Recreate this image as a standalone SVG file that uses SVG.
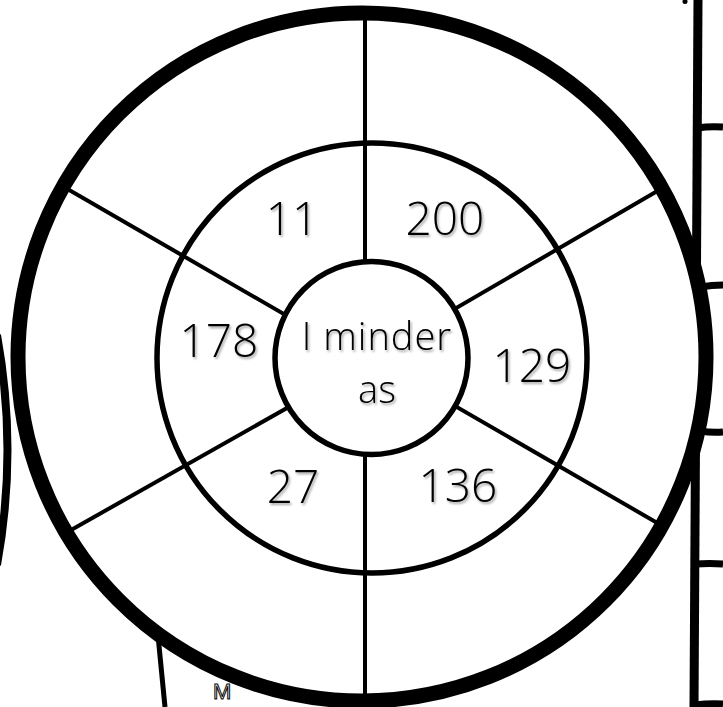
<svg xmlns="http://www.w3.org/2000/svg" width="723" height="707" viewBox="0 0 723 707">
  <defs>
    <filter id="shadow" x="-20%" y="-20%" width="140%" height="140%">
      <feDropShadow dx="1.5" dy="2" stdDeviation="1" flood-color="#000" flood-opacity="0.35"/>
    </filter>
  </defs>
  <style>
    .num { font-family: "Open Sans", "Liberation Sans", Arial, sans-serif; font-weight: 300; font-size: 46px; fill: #000; text-anchor: middle; filter: url(#shadow); }
    .ctr { font-family: "Open Sans", "Liberation Sans", Arial, sans-serif; font-weight: 300; font-size: 38px; fill: #000; text-anchor: middle; filter: url(#shadow); }
    .spoke { stroke: #000; stroke-width: 4; fill: none; }
    .ring { stroke: #000; stroke-width: 5.5; }
    .edge { stroke: #000; fill: none; stroke-linecap: butt; }
  </style>
  <rect width="723" height="707" fill="#fff"/>

  <g id="background-marks">
    <path class="edge" d="M 698 0 L 694 707" stroke-width="9"/>
    <path class="edge" d="M 697 128 Q 710 126 723 127" stroke-width="7"/>
    <path class="edge" d="M 700 287 Q 712 285 723 285" stroke-width="7"/>
    <path class="edge" d="M 700 431 Q 712 433 723 432" stroke-width="7"/>
    <path class="edge" d="M 695 564 Q 710 563 723 564" stroke-width="7"/>
    <path class="edge" d="M 695 705 Q 710 703 723 704" stroke-width="7"/>
    <ellipse cx="685" cy="1.5" rx="2.5" ry="2.5" fill="#000"/>
    <path class="edge" d="M -3 335 Q 18 450 -3 565" stroke-width="8"/>
    <path class="edge" d="M 156 615 L 165 707" stroke-width="5"/>
    <text x="213" y="699" font-family="Liberation Sans, Arial, sans-serif" font-size="22" fill="#fff" stroke="#000" stroke-width="1">M</text>
  </g>

  <g id="wheel-fill">
    <circle cx="362" cy="357" r="344" fill="#fff"/>
  </g>

  <g id="connectors">
    <line class="spoke" x1="365" y1="10" x2="365" y2="707"/>
    <line class="spoke" x1="372" y1="365" x2="64" y2="187"/>
    <line class="spoke" x1="372" y1="360" x2="64" y2="534"/>
    <line class="spoke" x1="372" y1="357" x2="666" y2="186"/>
    <line class="spoke" x1="372" y1="358" x2="666" y2="528"/>
  </g>

  <g id="middle-ring">
    <circle class="ring" cx="372" cy="358" r="215" fill="none"/>
  </g>

  <g id="outer-ring">
    <circle cx="362" cy="357" r="344" fill="none" stroke="#000" stroke-width="15"/>
  </g>

  <g id="node-center">
    <circle class="ring" cx="371.5" cy="358" r="96.5" fill="#fff"/>
    <text class="ctr" x="377" y="350" letter-spacing="1">I minder</text>
    <text class="ctr" x="377" y="403">as</text>
  </g>

  <g id="node-11"><text class="num" x="292" y="235">11</text></g>
  <g id="node-200"><text class="num" x="445" y="235">200</text></g>
  <g id="node-178"><text class="num" x="219" y="357">178</text></g>
  <g id="node-129"><text class="num" x="532" y="382">129</text></g>
  <g id="node-27"><text class="num" x="293" y="503">27</text></g>
  <g id="node-136"><text class="num" x="458" y="502">136</text></g>
</svg>
